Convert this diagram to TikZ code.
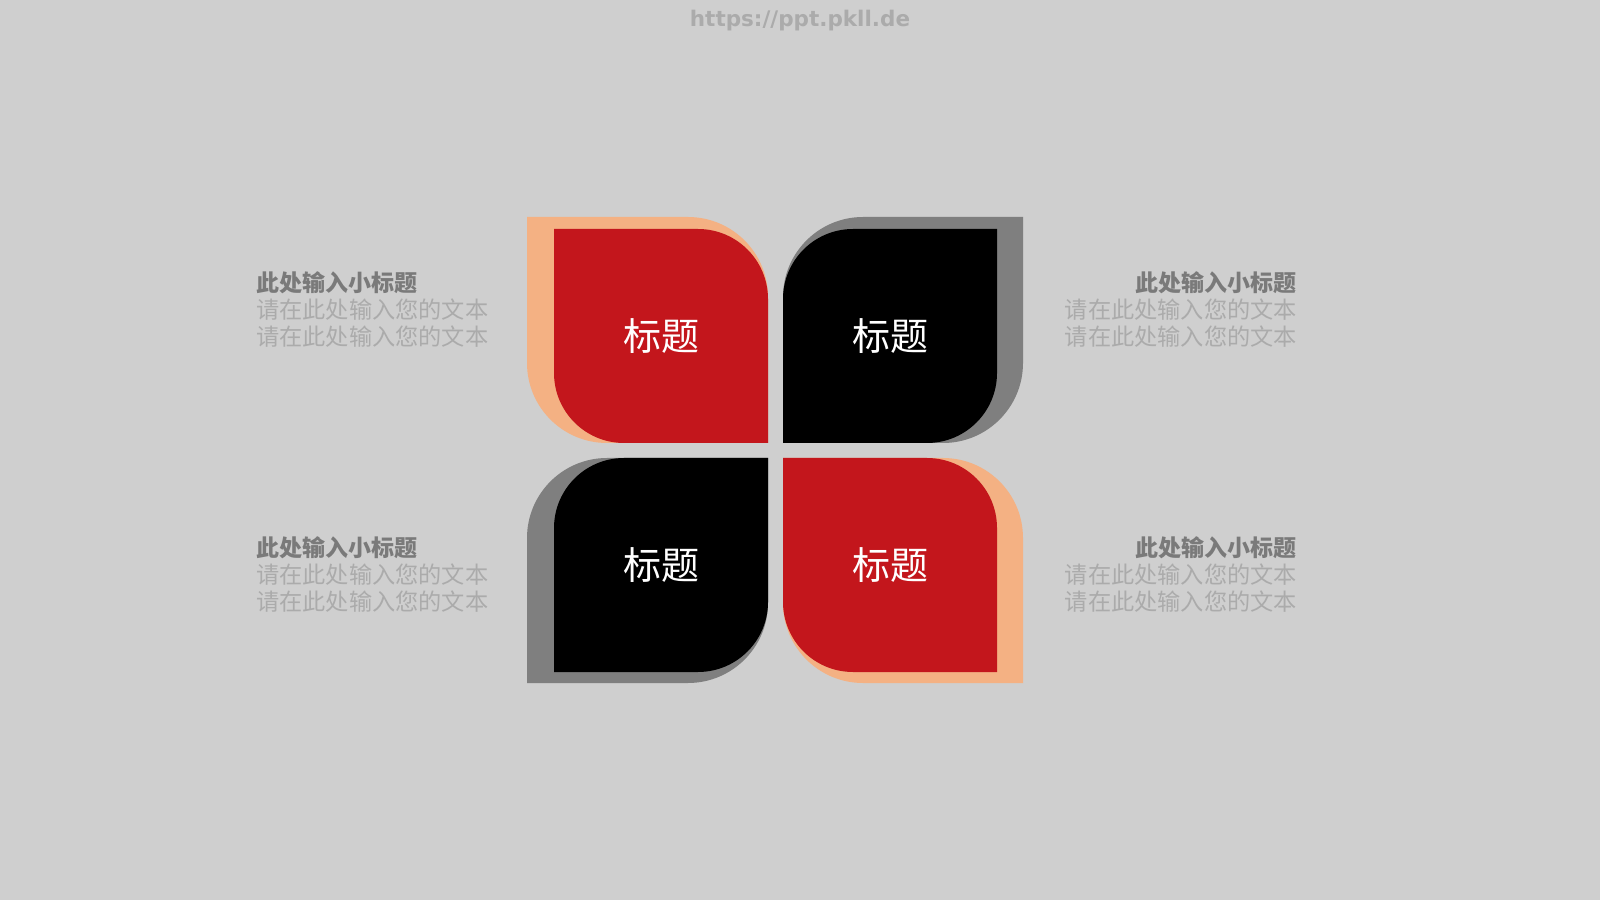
\documentclass[tikz,border=0pt]{standalone}
\usepackage{fontspec}
\newfontfamily\cjk{Noto Sans CJK SC}
\newfontfamily\urlfont{DejaVu Sans}
\definecolor{bg}{HTML}{CFCFCF}
\definecolor{leafred}{HTML}{C3161C}
\definecolor{peach}{HTML}{F4B183}
\definecolor{shadowgray}{HTML}{7F7F7F}
\definecolor{subgray}{HTML}{7A7A7A}
\definecolor{bodygray}{HTML}{ABABAB}
\tikzset{
  leaftext/.style={text=white, font=\cjk\fontsize{38}{42}\selectfont},
  subtitle/.style={text=subgray, font=\cjk\bfseries\fontsize{23}{27}\selectfont, inner sep=0pt},
  bodytext/.style={text=bodygray, font=\cjk\fontsize{23.2}{27}\selectfont, inner sep=0pt}
}
\begin{document}
\begin{tikzpicture}[x=1pt,y=1pt]

\fill [bg] (0,0) rectangle (1600,900);
\useasboundingbox (0,0) rectangle (1600,900);

\node [text=bodygray, font=\urlfont\bfseries\fontsize{21.5}{24}\selectfont] (url) at (800,879) {https://ppt.pkll.de};

% shadows
\fill [peach] (527,683) -- (688,683) arc[start angle=90, end angle=0, radius=80] -- (768,457) -- (607,457) arc[start angle=270, end angle=180, radius=80] -- cycle;
\fill [shadowgray] (1023,683) -- (1023,537) arc[start angle=0, end angle=-90, radius=80] -- (783,457) -- (783,603) arc[start angle=180, end angle=90, radius=80] -- cycle;
\fill [shadowgray] (768,442) -- (768,297) arc[start angle=0, end angle=-90, radius=80] -- (527,217) -- (527,362) arc[start angle=180, end angle=90, radius=80] -- cycle;
\fill [peach] (783,442) -- (943,442) arc[start angle=90, end angle=0, radius=80] -- (1023,217) -- (863,217) arc[start angle=270, end angle=180, radius=80] -- cycle;

% leaves
\fill [leafred] (554,671) -- (698,671) arc[start angle=90, end angle=0, radius=70] -- (768,457) -- (624,457) arc[start angle=270, end angle=180, radius=70] -- cycle;
\fill [black] (997,671) -- (997,527) arc[start angle=0, end angle=-90, radius=70] -- (783,457) -- (783,601) arc[start angle=180, end angle=90, radius=70] -- cycle;
\fill [black] (768,442) -- (768,298) arc[start angle=0, end angle=-90, radius=70] -- (554,228) -- (554,372) arc[start angle=180, end angle=90, radius=70] -- cycle;
\fill [leafred] (783,442) -- (927,442) arc[start angle=90, end angle=0, radius=70] -- (997,228) -- (853,228) arc[start angle=270, end angle=180, radius=70] -- cycle;

\node [leaftext] (t1) at (661,564) {标题};
\node [leaftext] (t2) at (890,564) {标题};
\node [leaftext] (t3) at (661,335) {标题};
\node [leaftext] (t4) at (890,335) {标题};

% left texts
\node [subtitle, anchor=west] (s1) at (256,617) {此处输入小标题};
\node [bodytext, anchor=west] (b1a) at (256,590) {请在此处输入您的文本};
\node [bodytext, anchor=west] (b1b) at (256,563) {请在此处输入您的文本};
\node [subtitle, anchor=west] (s3) at (256,352) {此处输入小标题};
\node [bodytext, anchor=west] (b3a) at (256,325) {请在此处输入您的文本};
\node [bodytext, anchor=west] (b3b) at (256,298) {请在此处输入您的文本};

% right texts
\node [subtitle, anchor=east] (s2) at (1297,617) {此处输入小标题};
\node [bodytext, anchor=east] (b2a) at (1297,590) {请在此处输入您的文本};
\node [bodytext, anchor=east] (b2b) at (1297,563) {请在此处输入您的文本};
\node [subtitle, anchor=east] (s4) at (1297,352) {此处输入小标题};
\node [bodytext, anchor=east] (b4a) at (1297,325) {请在此处输入您的文本};
\node [bodytext, anchor=east] (b4b) at (1297,298) {请在此处输入您的文本};

\end{tikzpicture}
\end{document}
